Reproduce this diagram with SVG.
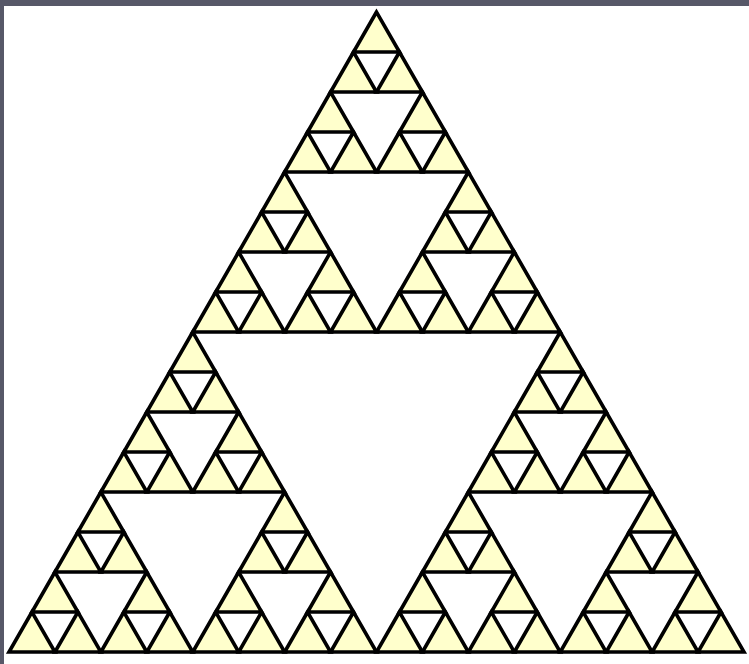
<svg xmlns="http://www.w3.org/2000/svg" xmlns:xlink="http://www.w3.org/1999/xlink" width="749" height="664" viewBox="0 0 749 664">
  <style>
    .tri { fill: #FFFFCC; stroke: #000000; stroke-width: 3.6; stroke-linejoin: miter; }
    .frame { fill: #575868; }
  </style>
  <defs>
    <polygon id="t0" class="tri" points="0,0 -22.96875,40 22.96875,40"/>
    <g id="t1">
      <use xlink:href="#t0" href="#t0"/>
      <use xlink:href="#t0" href="#t0" transform="translate(-22.96875,40)"/>
      <use xlink:href="#t0" href="#t0" transform="translate(22.96875,40)"/>
    </g>
    <g id="t2">
      <use xlink:href="#t1" href="#t1"/>
      <use xlink:href="#t1" href="#t1" transform="translate(-45.9375,80)"/>
      <use xlink:href="#t1" href="#t1" transform="translate(45.9375,80)"/>
    </g>
    <g id="t3">
      <use xlink:href="#t2" href="#t2"/>
      <use xlink:href="#t2" href="#t2" transform="translate(-91.875,160)"/>
      <use xlink:href="#t2" href="#t2" transform="translate(91.875,160)"/>
    </g>
    <g id="t4">
      <use xlink:href="#t3" href="#t3"/>
      <use xlink:href="#t3" href="#t3" transform="translate(-183.75,320)"/>
      <use xlink:href="#t3" href="#t3" transform="translate(183.75,320)"/>
    </g>
  </defs>
  <rect x="0" y="0" width="749" height="664" fill="#FFFFFF"/>
  <rect class="frame" x="0" y="0" width="749" height="6"/>
  <rect class="frame" x="0" y="0" width="4" height="664"/>
  <g id="sierpinski" transform="translate(376.5,12)">
    <use xlink:href="#t4" href="#t4"/>
  </g>
</svg>
